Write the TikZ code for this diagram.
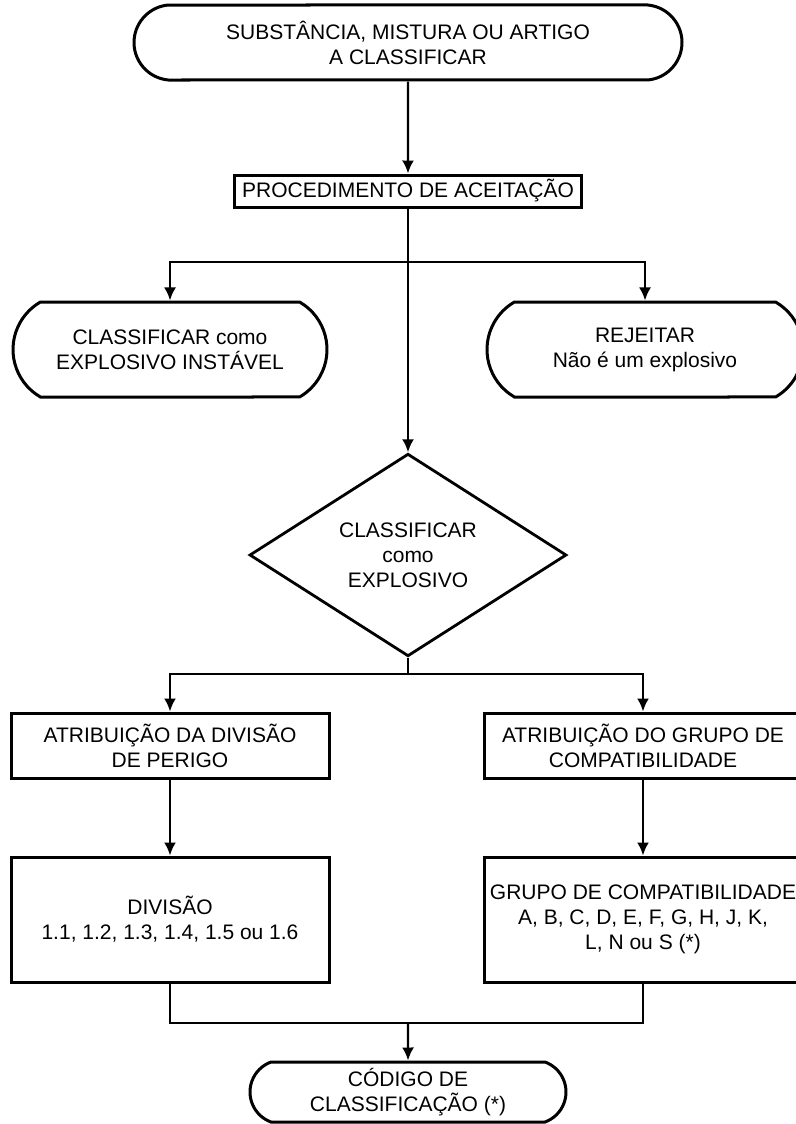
\documentclass[tikz,border=0pt]{standalone}
\usepackage{fontspec}
\setmainfont{Liberation Sans}
\usetikzlibrary{shapes.misc,shapes.geometric,arrows.meta}

\begin{document}
\begin{tikzpicture}[-{Latex[length=13pt,width=12pt]}, x=1pt, y=-1pt, line width=2.3pt,
        font=\fontsize{21}{25}\selectfont,
        term/.style = {draw, rounded rectangle, rounded rectangle arc length=120, line width=3pt, inner sep=0pt, align=center},
        box/.style = {draw, rectangle, line width=3pt, inner sep=0pt, align=center},
        dec/.style = {draw, diamond, line width=2.8pt, inner sep=0pt, align=center}]
            \useasboundingbox (0,0) rectangle (795,1124);
            \node[term, rounded rectangle arc length=170, minimum width=548pt, minimum height=75pt] (1) at (408,42.5) {SUBSTÂNCIA, MISTURA OU ARTIGO\\A CLASSIFICAR};
            \node[box, minimum width=347pt, minimum height=32pt] (2) at (408,191) {PROCEDIMENTO DE ACEITAÇÃO};
            \node[term, minimum width=314pt, minimum height=95pt] (3) at (170,349.5) {CLASSIFICAR como\\EXPLOSIVO INSTÁVEL};
            \node[term, minimum width=316pt, minimum height=95pt] (4) at (645,349.5) {REJEITAR\\Não é um explosivo};
            \node[dec, minimum width=317pt, minimum height=156pt] (5) at (408,555) {CLASSIFICAR\\como\\EXPLOSIVO};
            \node[box, minimum width=318pt, minimum height=65pt] (6) at (170,745.5) {ATRIBUIÇÃO DA DIVISÃO\\DE PERIGO};
            \node[box, minimum width=318pt, minimum height=65pt] (7) at (643,745.5) {ATRIBUIÇÃO DO GRUPO DE\\COMPATIBILIDADE};
            \node[box, minimum width=318pt, minimum height=125pt] (8) at (170,919.5) {DIVISÃO\\1.1, 1.2, 1.3, 1.4, 1.5 ou 1.6};
            \node[box, minimum width=318pt, minimum height=125pt] (9) at (643,919.5) {GRUPO DE COMPATIBILIDADE\\A, B, C, D, E, F, G, H, J, K,\\L, N ou S (*)};
            \node[term, rounded rectangle arc length=140, minimum width=316pt, minimum height=60pt] (10) at (408,1092) {CÓDIGO DE\\CLASSIFICAÇÃO (*)};
            \coordinate (b1) at (408,262);
            \coordinate (b2) at (408,674);
            \coordinate (j) at (408,1023);
            \draw (1) -- (2);
            \draw (2) -- (5);
            \draw (b1) -| (3);
            \draw (b1) -| (4);
            \draw[-] (5) -- (b2);
            \draw (b2) -| (6);
            \draw (b2) -| (7);
            \draw (6) -- (8);
            \draw (7) -- (9);
            \draw[-] (8) |- (j) -| (9);
            \draw (j) -- (10);
        \end{tikzpicture}
\end{document}
